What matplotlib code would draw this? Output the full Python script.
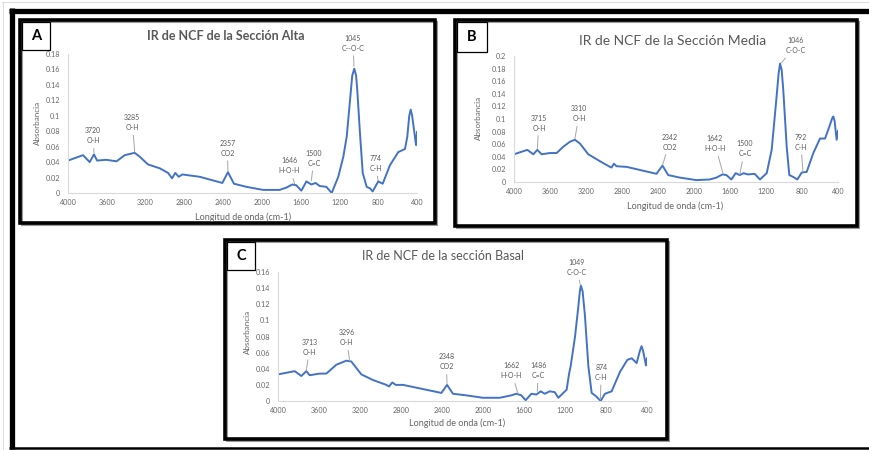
import matplotlib
matplotlib.use("Agg")
import matplotlib.pyplot as plt
from matplotlib.patches import Rectangle
from matplotlib.lines import Line2D

plt.rcParams['font.family'] = ['Lato', 'DejaVu Sans']

W, H = 869, 450

# ---------------- data (wavenumber cm-1, absorbance) ----------------
wn_A = [4000, 3845, 3776, 3732, 3700, 3605, 3500, 3415, 3312, 3260, 3175, 3054, 2968, 2927,
        2893, 2858, 2820, 2642, 2408, 2350, 2288, 2160, 1988, 1817, 1748, 1686, 1645, 1593,
        1541, 1490, 1446, 1404, 1335, 1280, 1212, 1160, 1125, 1091, 1068, 1047, 1028, 1016,
        988, 960, 919, 885, 857, 800, 754, 679, 593, 524, 500, 480, 465, 450, 431, 410, 400]
abs_A = [0.042, 0.049, 0.040, 0.050, 0.042, 0.043, 0.041, 0.049, 0.052, 0.047, 0.037, 0.032,
         0.026, 0.019, 0.026, 0.021, 0.024, 0.021, 0.013, 0.027, 0.012, 0.008, 0.004, 0.004,
         0.007, 0.011, 0.010, 0.003, 0.015, 0.011, 0.013, 0.009, 0.008, 0.000, 0.021, 0.047,
         0.073, 0.120, 0.152, 0.161, 0.152, 0.133, 0.077, 0.026, 0.008, 0.006, 0.002, 0.015,
         0.012, 0.036, 0.053, 0.057, 0.073, 0.100, 0.108, 0.100, 0.082, 0.062, 0.079]

wn_B = [4000, 3852, 3785, 3741, 3693, 3600, 3526, 3452, 3378, 3323, 3267, 3175, 3045, 2934,
        2916, 2890, 2860, 2749, 2417, 2350, 2287, 2158, 1973, 1825, 1751, 1684, 1640, 1585,
        1537, 1492, 1448, 1400, 1326, 1267, 1192, 1137, 1089, 1060, 1044, 1026, 1008, 970,
        941, 897, 852, 803, 748, 674, 600, 544, 496, 465, 452, 438, 415, 400]
abs_B = [0.044, 0.051, 0.044, 0.051, 0.044, 0.046, 0.046, 0.056, 0.064, 0.067, 0.061, 0.044,
         0.033, 0.024, 0.023, 0.029, 0.025, 0.024, 0.013, 0.026, 0.011, 0.007, 0.003, 0.004,
         0.007, 0.012, 0.011, 0.004, 0.014, 0.011, 0.014, 0.012, 0.013, 0.004, 0.014, 0.051,
         0.125, 0.172, 0.188, 0.178, 0.146, 0.056, 0.011, 0.008, 0.004, 0.015, 0.016, 0.046,
         0.069, 0.069, 0.088, 0.101, 0.104, 0.097, 0.067, 0.081]

wn_C = [4000, 3837, 3772, 3724, 3691, 3593, 3528, 3431, 3333, 3285, 3187, 3073, 2943, 2917,
        2885, 2852, 2780, 2406, 2351, 2293, 2163, 2000, 1837, 1724, 1675, 1626, 1584, 1528,
        1479, 1437, 1398, 1349, 1300, 1265, 1184, 1160, 1145, 1102, 1070, 1055, 1045, 1028,
        1005, 972, 940, 898, 852, 810, 745, 664, 592, 549, 501, 470, 453, 438, 410, 400]
abs_C = [0.033, 0.037, 0.031, 0.037, 0.032, 0.034, 0.034, 0.045, 0.050, 0.049, 0.033, 0.026,
         0.020, 0.018, 0.023, 0.020, 0.020, 0.010, 0.020, 0.009, 0.007, 0.004, 0.004, 0.007,
         0.009, 0.007, 0.001, 0.009, 0.008, 0.012, 0.009, 0.012, 0.011, 0.004, 0.014, 0.034,
         0.043, 0.080, 0.117, 0.136, 0.143, 0.136, 0.105, 0.043, 0.010, 0.006, 0.000, 0.009,
         0.012, 0.036, 0.051, 0.053, 0.047, 0.062, 0.068, 0.062, 0.044, 0.053]

labels_A = ["3720\nO-H", "3285\nO-H", "2357\nCO2", "1646\nH-O-H", "1500\nC=C", "1045\nC--O-C", "774\nC-H"]
labels_B = ["3715\nO-H", "3310\nO-H", "2342\nCO2", "1642\nH-O-H", "1500\nC=C", "1046\nC-O-C", "792\nC-H"]
labels_C = ["3713\nO-H", "3296\nO-H", "2348\nCO2", "1662\nH-O-H", "1486\nC=C", "1049\nC-O-C", "874\nC-H"]

titles = ["IR de NCF de la Sección Alta", "IR de NCF de la Sección Media", "IR de NCF de la sección Basal"]
letters = ["A", "B", "C"]
xticks = [4000, 3600, 3200, 2800, 2400, 2000, 1600, 1200, 800, 400]

# ---------------- layout ----------------
# annotation positions: (text x, text bottom y) and tip (x, y), in data coords
ann_A = [((3742, 0.063), (3732, 0.052)), ((3336, 0.080), (3312, 0.053)),
         ((2357, 0.047), (2350, 0.028)), ((1720, 0.024), (1662, 0.012)),
         ((1462, 0.034), (1490, 0.016)), ((1060, 0.183), (1050, 0.164)),
         ((826, 0.027), (802, 0.016))]
ann_B = [((3723, 0.080), (3741, 0.053)), ((3275, 0.095), (3323, 0.069)),
         ((2268, 0.050), (2350, 0.027)), ((1769, 0.047), (1676, 0.013)),
         ((1436, 0.039), (1491, 0.012)), ((870, 0.203), (1030, 0.189)),
         ((814, 0.050), (789, 0.016))]
ann_C = [((3691, 0.056), (3724, 0.038)), ((3333, 0.068), (3301, 0.050)),
         ((2358, 0.038), (2351, 0.021)), ((1724, 0.027), (1659, 0.009)),
         ((1463, 0.027), (1470, 0.012)), ((1090, 0.155), (1050, 0.144)),
         ((846, 0.025), (855, 0.002))]

panels = [
    dict(wn=wn_A, ab=abs_A, labels=labels_A, ann=ann_A, ymax=0.18,
         ax=(68, 417, 54, 193), frame=(20, 20, 435, 223.5), lbox=(22, 22, 50, 50),
         title=(226, 36), tbold=True, tsize=9, xl=(243, 217), yl=(37, 123)),
    dict(wn=wn_B, ab=abs_B, labels=labels_B, ann=ann_B, ymax=0.2,
         ax=(514, 838, 56, 182), frame=(455, 20, 857, 226), lbox=(457, 22, 487, 52),
         title=(673, 41), tbold=False, tsize=10, xl=(675, 206), yl=(478, 118)),
    dict(wn=wn_C, ab=abs_C, labels=labels_C, ann=ann_C, ymax=0.16,
         ax=(278, 647, 272, 401), frame=(225, 240, 667, 439), lbox=(227, 242, 255, 270),
         title=(443, 256), tbold=False, tsize=9, xl=(457, 423), yl=(247, 332)),
]

fig = plt.figure(figsize=(W / 100, H / 100), dpi=100)
fig.patch.set_facecolor("white")

def fx(px):
    return px / W

def fy(py):
    return 1 - py / H

# outer frame
fig.add_artist(Line2D([fx(2), fx(869)], [fy(2), fy(2)], color="#dddddd", lw=0.8))
fig.add_artist(Line2D([fx(3), fx(3)], [fy(2), fy(450)], color="#dddddd", lw=0.8))
fig.add_artist(Line2D([fx(9), fx(869)], [fy(10.5), fy(10.5)], color="black", lw=3.8, solid_capstyle="butt"))
fig.add_artist(Line2D([fx(11.5), fx(11.5)], [fy(8), fy(449)], color="black", lw=3.8, solid_capstyle="butt"))
fig.add_artist(Line2D([fx(9), fx(869)], [fy(447.5), fy(447.5)], color="black", lw=1.8, solid_capstyle="butt"))

grey = "#595959"
line_col = "#4472C4"

for i, p in enumerate(panels):
    l, r, t, b = p["ax"]
    ax = fig.add_axes([fx(l), fy(b), (r - l) / W, (b - t) / H])
    ax.plot(p["wn"], p["ab"], color=line_col, lw=1.4, solid_joinstyle="round")
    ax.set_xlim(4000, 400)
    ax.set_ylim(0, p["ymax"])
    ax.set_xticks(xticks)
    ax.set_xticklabels([str(v) for v in xticks])
    n = int(round(p["ymax"] / 0.02))
    yt = [k * 0.02 for k in range(n + 1)]
    ax.set_yticks(yt)
    ax.set_yticklabels(["%g" % round(v, 2) for v in yt])
    for s in ["top", "right"]:
        ax.spines[s].set_visible(False)
    for s in ["left", "bottom"]:
        ax.spines[s].set_color("#d9d9d9")
        ax.spines[s].set_linewidth(0.8)
    ax.tick_params(length=0, labelsize=5.2, labelcolor="#666666")
    ax.tick_params(axis="y", pad=5.5)
    ax.tick_params(axis="x", pad=4.5)
    ax.patch.set_alpha(0)
    for lab, (txt, tip) in zip(p["labels"], p["ann"]):
        ax.annotate(lab, xy=tip, xytext=txt, ha="center", va="bottom", fontsize=5,
                    color=grey, linespacing=1.5, annotation_clip=False,
                    arrowprops=dict(arrowstyle="-", color="#a6a6a6", lw=0.7,
                                    shrinkA=1, shrinkB=0))
    fig.text(fx(p["title"][0]), fy(p["title"][1]), titles[i],
             ha="center", va="center", fontsize=p["tsize"], color=grey,
             fontweight="bold" if p["tbold"] else "normal")
    fig.text(fx(p["xl"][0]), fy(p["xl"][1]), "Longitud de onda (cm-1)", ha="center",
             va="center", fontsize=6.5, color="#666666")
    fig.text(fx(p["yl"][0]), fy(p["yl"][1]), "Absorbancia", ha="center", va="center",
             fontsize=5.8, color="#666666", rotation=90)
    x0, y0, x1, y1 = p["frame"]
    fig.add_artist(Rectangle((fx(x0 + 2), fy(y1 + 2)), (x1 - x0) / W, (y1 - y0) / H,
                             transform=fig.transFigure, fill=False, edgecolor="#9a9a9a", lw=1.5))
    fig.add_artist(Rectangle((fx(x0), fy(y1)), (x1 - x0) / W, (y1 - y0) / H,
                             transform=fig.transFigure, fill=False, edgecolor="black", lw=2.6))
    bx0, by0, bx1, by1 = p["lbox"]
    fig.add_artist(Rectangle((fx(bx0), fy(by1)), (bx1 - bx0) / W, (by1 - by0) / H,
                             transform=fig.transFigure, facecolor="white", edgecolor="black", lw=0.9))
    fig.text(fx((bx0 + bx1) / 2), fy((by0 + by1) / 2), letters[i],
             ha="center", va="center", fontsize=10.5, fontweight="bold", color="black")

fig.savefig("out.png", dpi=100)
